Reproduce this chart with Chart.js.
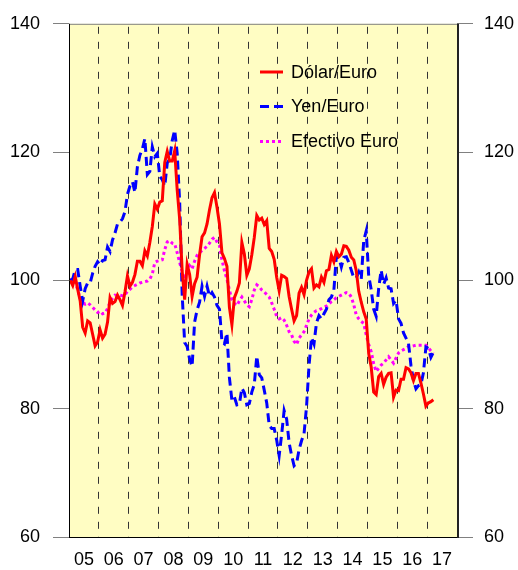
<!DOCTYPE html>
<html><head><meta charset="utf-8">
<script src="https://cdn.jsdelivr.net/npm/chart.js@4.4.0/dist/chart.umd.min.js"></script>
<style>html,body{margin:0;padding:0;background:#fff;}canvas{display:block;}</style>
</head><body>
<canvas id="c" width="518" height="570"></canvas>
<script>
// ---- data (monthly, Jan 2005 = 100; Jan 2005 .. Mar 2017) ----
const years = ['05','06','07','08','09','10','11','12','13','14','15','16','17'];
const yTicks = [60, 80, 100, 120, 140];
const seriesNames = ['Dólar/Euro', 'Yen/Euro', 'Efectivo Euro'];

const dolarEuro = [
  100.0, 99.2, 100.6, 98.6, 96.8, 92.7, 91.8, 93.7, 93.4, 91.6, 89.8, 90.4,
  92.3, 91.0, 91.6, 93.5, 97.3, 96.4, 96.7, 97.7, 97.0, 96.1, 98.2, 100.7,
  99.1, 99.7, 100.9, 103.0, 103.0, 102.3, 104.6, 103.8, 105.9, 108.4, 111.9, 111.1,
  112.2, 112.4, 118.4, 120.1, 118.6, 118.6, 120.2, 114.1, 109.5, 101.5, 97.0, 102.5,
  100.9, 97.5, 99.5, 100.5, 104.0, 106.8, 107.4, 108.8, 111.0, 112.9, 113.7, 111.4,
  108.8, 104.3, 103.4, 102.2, 95.8, 93.1, 97.3, 98.3, 99.6, 105.9, 104.1, 100.8,
  101.8, 104.0, 106.7, 110.1, 109.4, 109.7, 108.7, 109.3, 105.0, 104.5, 103.3, 100.5,
  98.4, 100.8, 100.6, 100.3, 97.5, 95.5, 93.7, 94.5, 98.0, 98.9, 97.8, 100.0,
  101.3, 101.8, 98.8, 99.3, 99.0, 100.5, 99.7, 101.5, 101.7, 103.9, 102.9, 104.5,
  103.7, 104.1, 105.4, 105.3, 104.7, 103.6, 103.2, 101.5, 98.3, 96.6, 95.1, 94.0,
  88.6, 86.5, 82.6, 82.2, 85.0, 85.5, 83.8, 84.9, 85.5, 85.6, 81.8, 82.9,
  82.8, 84.6, 84.6, 86.4, 86.2, 85.6, 84.4, 85.5, 85.5, 84.0, 82.3, 80.4,
  80.9, 81.1, 81.4
];

const yenEuro = [
  100.0, 100.2, 101.7, 101.7, 99.1, 96.8, 98.7, 99.6, 99.6, 101.1, 102.2, 102.9,
  102.4, 103.1, 103.2, 105.2, 104.5, 106.3, 107.4, 108.8, 109.1, 109.6, 110.7, 113.4,
  114.7, 115.4, 113.7, 117.7, 119.5, 120.5, 122.1, 116.5, 117.0, 120.8, 119.3, 119.8,
  116.2, 115.7, 114.7, 118.3, 118.9, 121.8, 123.4, 119.8, 112.2, 97.8, 90.3, 89.7,
  87.7, 86.6, 93.5, 95.4, 96.6, 99.1, 97.5, 99.1, 97.5, 98.1, 97.4, 96.1,
  95.5, 90.4, 90.1, 91.8, 84.8, 81.3, 81.8, 80.6, 80.7, 83.2, 82.5, 80.6,
  80.8, 82.6, 83.8, 88.2, 85.3, 84.8, 82.9, 80.9, 77.4, 76.9, 76.9, 75.1,
  72.7, 76.0, 79.7, 78.4, 74.7, 72.7, 71.1, 71.5, 73.6, 75.0, 76.1, 80.3,
  86.7, 91.1, 90.1, 93.4, 94.5, 94.0, 94.8, 95.5, 97.0, 97.4, 98.5, 103.8,
  103.6, 102.1, 103.6, 103.7, 102.8, 101.6, 100.4, 100.4, 101.3, 100.2, 106.2, 107.7,
  100.7, 98.6, 95.5, 94.4, 98.7, 101.6, 99.4, 100.4, 98.8, 98.7, 96.4, 96.9,
  94.0, 93.3, 91.8, 91.0, 90.2, 86.7, 84.4, 83.1, 83.6, 83.8, 85.6, 89.6,
  89.4, 88.0, 88.8
];

const efectivoEuro = [
  100.0, 100.3, 99.8, 98.5, 97.2, 96.6, 96.3, 96.5, 96.2, 95.8, 95.4, 95.0,
  95.2, 94.8, 94.9, 95.6, 96.6, 97.2, 97.7, 97.6, 97.7, 97.6, 97.7, 98.3,
  98.6, 99.0, 99.2, 99.4, 99.6, 99.7, 99.8, 99.9, 100.2, 101.0, 102.8, 103.0,
  103.1, 103.2, 104.8, 106.0, 106.2, 105.8, 105.7, 104.3, 102.8, 101.3, 100.2, 101.5,
  102.3, 101.8, 103.0, 103.9, 104.3, 104.7, 105.0, 105.3, 105.8, 106.4, 106.7, 106.0,
  105.4, 103.2, 101.5, 100.2, 98.5, 97.0, 96.4, 96.1, 96.8, 97.4, 96.8, 96.2,
  95.9, 97.0, 98.5, 99.3, 99.0, 98.5, 98.2, 97.8, 97.4, 96.5, 95.5, 94.4,
  94.0, 94.2, 93.8, 93.0, 92.0, 91.5, 90.5, 90.0, 91.0, 91.5, 92.0, 93.0,
  94.0, 94.6, 95.0, 95.3, 95.4, 95.6, 95.8, 96.0, 96.3, 96.7, 97.0, 97.3,
  97.5, 97.7, 97.9, 98.1, 98.0, 97.4, 96.2, 94.6, 94.0, 93.6, 93.3, 91.5,
  90.0, 88.9, 87.0, 85.8, 86.3, 86.8, 87.1, 87.6, 88.1, 87.6, 87.1, 87.9,
  88.7, 89.0, 89.2, 89.4, 89.7, 89.7, 89.8, 89.9, 89.9, 89.9, 89.9, 89.9,
  89.5, 89.0, 88.6
];

// ---- styling ----
const FONT = "Arial, 'Liberation Sans', sans-serif";
const toPoints = arr => arr.map((v, i) => ({ x: i + 0.5, y: v }));

const bgPlugin = {
  id: 'bg',
  beforeDraw(chart) {
    const { ctx, chartArea: a } = chart;
    ctx.save();
    ctx.fillStyle = '#FFFDC3';
    ctx.fillRect(a.left, a.top, a.right - a.left, a.bottom - a.top);
    ctx.restore();
  }
};

const framePlugin = {
  id: 'frame',
  afterDraw(chart) {
    const { ctx, chartArea: a } = chart;
    ctx.save();
    ctx.setLineDash([]);
    ctx.lineWidth = 1;
    ctx.strokeStyle = '#808080';
    ctx.beginPath(); ctx.moveTo(a.left, a.top + 0.5); ctx.lineTo(a.right, a.top + 0.5); ctx.stroke();
    ctx.strokeStyle = '#000';
    ctx.beginPath(); ctx.moveTo(a.left + 0.5, a.top); ctx.lineTo(a.left + 0.5, a.bottom); ctx.stroke();
    ctx.beginPath(); ctx.moveTo(a.left, a.bottom + 0.5); ctx.lineTo(a.right + 1, a.bottom + 0.5); ctx.stroke();
    ctx.lineWidth = 2;
    ctx.strokeStyle = '#222';
    ctx.beginPath(); ctx.moveTo(a.right + 1, a.top); ctx.lineTo(a.right + 1, a.bottom + 1); ctx.stroke();
    ctx.restore();
  }
};

const legendPlugin = {
  id: 'innerLegend',
  afterDraw(chart) {
    const { ctx } = chart;
    const ys = [72, 106.5, 141.5];
    ctx.save();
    chart.data.datasets.forEach((ds, i) => {
      const y = ys[i];
      ctx.strokeStyle = ds.borderColor;
      ctx.lineWidth = ds.borderWidth;
      ctx.setLineDash(ds.borderDash || []);
      ctx.beginPath(); ctx.moveTo(260, y); ctx.lineTo(283, y); ctx.stroke();
      ctx.setLineDash([]);
      ctx.fillStyle = '#000';
      ctx.font = '18px ' + FONT;
      ctx.textBaseline = 'middle';
      ctx.textAlign = 'left';
      ctx.fillText(ds.label, 291, y + 1);
    });
    ctx.restore();
  }
};

const yAxis = (pos, padding) => ({
  type: 'linear',
  position: pos,
  min: 60, max: 140,
  afterBuildTicks: s => { s.ticks = yTicks.map(v => ({ value: v })); },
  afterFit: s => { s.width = pos === 'left' ? 69 : 61; },
  grid: { drawOnChartArea: false, drawTicks: true, tickLength: 16, tickColor: '#808080', tickWidth: 1 },
  border: { display: false },
  ticks: { color: '#000', padding: padding, font: { family: FONT, size: 18 } }
});

new Chart(document.getElementById('c'), {
  type: 'line',
  data: {
    datasets: [
      { label: seriesNames[0], data: toPoints(dolarEuro), borderColor: '#FF0000', borderWidth: 3, borderDash: [], pointRadius: 0, tension: 0, fill: false },
      { label: seriesNames[1], data: toPoints(yenEuro), borderColor: '#0000FF', borderWidth: 3, borderDash: [9, 5], pointRadius: 0, tension: 0, fill: false },
      { label: seriesNames[2], data: toPoints(efectivoEuro), borderColor: '#FF00FF', borderWidth: 3, borderDash: [3, 3], pointRadius: 0, tension: 0, fill: false }
    ]
  },
  options: {
    responsive: false,
    animation: false,
    devicePixelRatio: 1,
    layout: { padding: { top: 20, left: 0, right: 0, bottom: 0 } },
    plugins: { legend: { display: false }, tooltip: { enabled: false } },
    scales: {
      x: {
        type: 'linear',
        min: 0, max: 156,
        afterBuildTicks: s => { const t = []; for (let v = 0; v <= 156; v += 6) t.push({ value: v }); s.ticks = t; },
        afterFit: s => { s.height = 33; },
        grid: {
          drawTicks: false,
          lineWidth: 1,
          color: c => (c.tick && c.tick.value % 12 === 0 && c.tick.value > 0 && c.tick.value < 156) ? '#333333' : 'rgba(0,0,0,0)'
        },
        border: { display: false, dash: [7, 8], dashOffset: 12 },
        ticks: {
          autoSkip: false, maxRotation: 0, padding: 12, color: '#000',
          font: { family: FONT, size: 18 },
          callback: v => (v % 12 === 6) ? years[(v - 6) / 12] : ''
        }
      },
      y: yAxis('left', 13),
      y2: yAxis('right', 11)
    }
  },
  plugins: [bgPlugin, framePlugin, legendPlugin]
});
</script>
</body></html>
